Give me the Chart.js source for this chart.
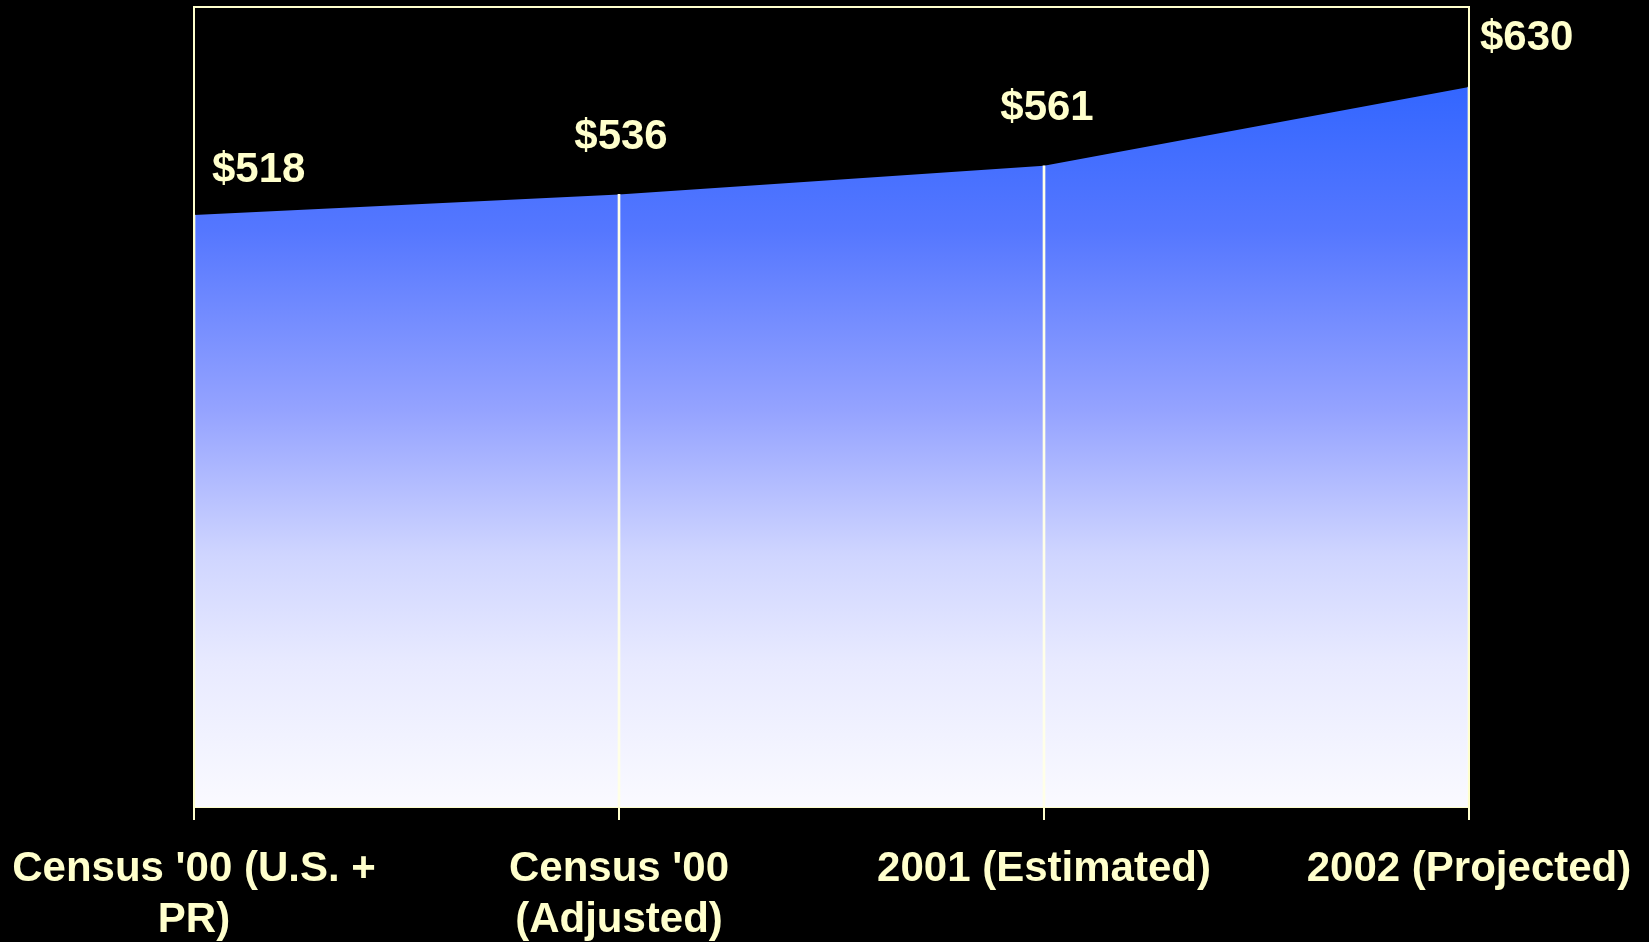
<!DOCTYPE html>
<html>
<head>
<meta charset="utf-8">
<script src="https://cdn.jsdelivr.net/npm/chart.js@4/dist/chart.umd.min.js"></script>
<style>
    html, body { margin: 0; padding: 0; background: #000; }
    #wrap { width: 1649px; height: 942px; }
</style>
</head>
<body>
<div id="wrap"><canvas id="cost-chart"></canvas></div>
<script>
// Categories (multi-line labels wrap like the slide)
const categories = [
    ["Census '00 (U.S. +", "PR)"],
    ["Census '00", "(Adjusted)"],
    "2001 (Estimated)",
    "2002 (Projected)"
];
const costValues = [518, 536, 561, 630];
const yMin = 0;
const yMax = 700;

const textColor = '#ffffcc';
const frameColor = '#ffffcc';
const fontFamily = '"Liberation Sans", Arial, sans-serif';

// Vertical blue-to-white fill under the line
function areaGradient(context) {
    const chart = context.chart;
    const area = chart.chartArea;
    if (!area) return '#5577ff';
    const top = chart.scales.y.getPixelForValue(Math.max(...costValues));
    const g = chart.ctx.createLinearGradient(0, top, 0, area.bottom);
    g.addColorStop(0, '#3366ff');
    g.addColorStop(0.2, '#5577ff');
    g.addColorStop(0.45, '#95a3ff');
    g.addColorStop(0.65, '#cfd5ff');
    g.addColorStop(0.8, '#e8eaff');
    g.addColorStop(1, '#fafaff');
    return g;
}

// Frame around the plot area (top, left, right; bottom comes from the x axis border)
const frameBorder = {
    id: 'frameBorder',
    afterDatasetsDraw(chart) {
        const { ctx, chartArea } = chart;
        ctx.save();
        ctx.strokeStyle = frameColor;
        ctx.lineWidth = 2;
        ctx.beginPath();
        ctx.moveTo(chartArea.left, chartArea.bottom);
        ctx.lineTo(chartArea.left, chartArea.top);
        ctx.lineTo(chartArea.right, chartArea.top);
        ctx.lineTo(chartArea.right, chartArea.bottom);
        ctx.stroke();
        ctx.restore();
    }
};

// "$xxx" labels above each point
const valueLabels = {
    id: 'valueLabels',
    afterDraw(chart, args, opts) {
        const { ctx } = chart;
        const meta = chart.getDatasetMeta(1);
        ctx.save();
        ctx.fillStyle = textColor;
        ctx.font = 'bold 42px ' + fontFamily;
        ctx.textBaseline = 'middle';
        meta.data.forEach((pt, i) => {
            ctx.textAlign = opts.align[i];
            ctx.fillText('$' + costValues[i], pt.x + opts.dx[i], pt.y + opts.dy[i]);
        });
        ctx.restore();
    }
};

new Chart(document.getElementById('cost-chart'), {
    data: {
        labels: categories,
        datasets: [
            {
                // drop lines from each point to the axis
                type: 'bar',
                data: costValues,
                backgroundColor: '#ffffe8',
                barThickness: 2,
                order: 0
            },
            {
                type: 'line',
                data: costValues,
                fill: 'origin',
                backgroundColor: areaGradient,
                borderWidth: 0,
                pointRadius: 0,
                tension: 0,
                order: 1
            }
        ]
    },
    options: {
        responsive: true,
        maintainAspectRatio: false,
        animation: false,
        layout: {
            padding: { left: 194, right: 180, top: 7, bottom: 0 }
        },
        plugins: {
            legend: { display: false },
            tooltip: { enabled: false },
            valueLabels: {
                align: ['left', 'center', 'center', 'left'],
                dx: [18, 2, 3, 11],
                dy: [-45, -57, -57, -49]
            }
        },
        scales: {
            x: {
                offset: false,
                afterFit(scale) {
                    // fixed axis height, and don't let the wide edge labels push the plot inward
                    scale.height = 135;
                    scale.paddingLeft = 0;
                    scale.paddingRight = 0;
                },
                grid: {
                    offset: false,
                    drawOnChartArea: false,
                    color: frameColor,
                    lineWidth: 2,
                    tickLength: 13
                },
                border: { color: frameColor, width: 2 },
                ticks: {
                    color: textColor,
                    padding: 24,
                    maxRotation: 0,
                    autoSkip: false,
                    font: { family: fontFamily, size: 42, weight: 'bold', lineHeight: 1.22 }
                }
            },
            y: {
                display: false,
                min: yMin,
                max: yMax
            }
        }
    },
    plugins: [frameBorder, valueLabels]
});
</script>
</body>
</html>
